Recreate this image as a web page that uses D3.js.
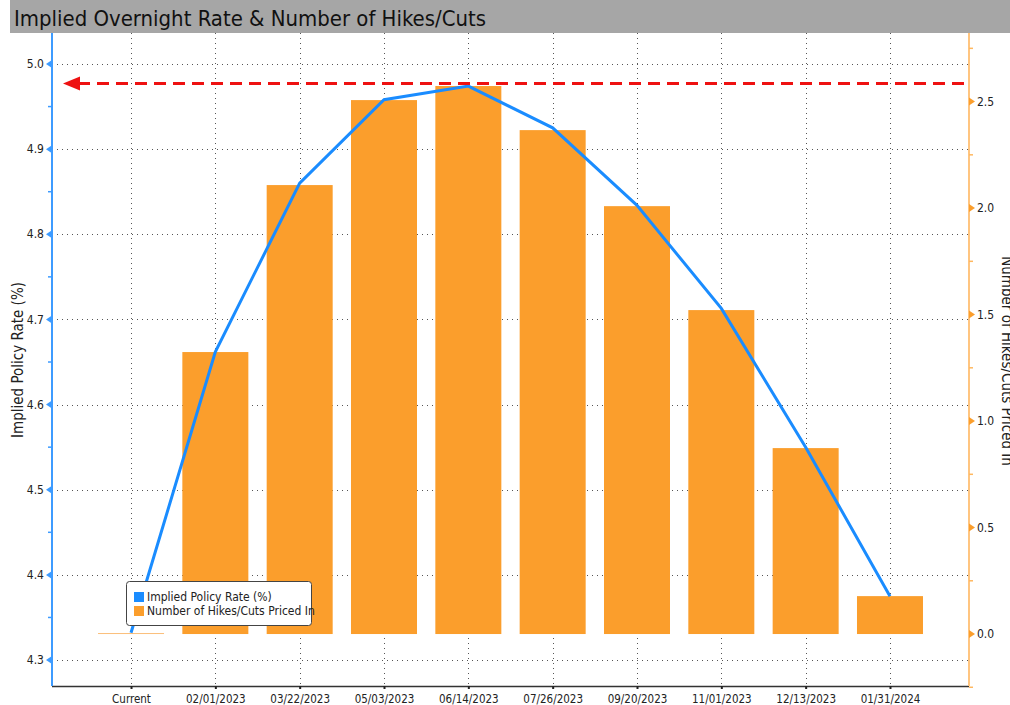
<!DOCTYPE html>
<html>
<head>
<meta charset="utf-8">
<script src="https://cdn.jsdelivr.net/npm/d3@7"></script>
<style>
  body { margin: 0; background: #fff; }
  svg { display: block; font-family: "DejaVu Sans Condensed", "DejaVu Sans", sans-serif; }
</style>
</head>
<body>
<div id="chart"></div>
<script>
// data
const categories = ["Current", "02/01/2023", "03/22/2023", "05/03/2023", "06/14/2023",
  "07/26/2023", "09/20/2023", "11/01/2023", "12/13/2023", "01/31/2024"];
const policyRate = [4.332, 4.662, 4.860, 4.958, 4.974, 4.925, 4.834, 4.713, 4.550, 4.375];
const hikesCuts = [0.0, 1.324, 2.108, 2.507, 2.573, 2.366, 2.009, 1.521, 0.873, 0.178];
const leftTicks = [4.3, 4.4, 4.5, 4.6, 4.7, 4.8, 4.9, 5.0];
const rightTicks = [0, 0.5, 1.0, 1.5, 2.0, 2.5];
const peakRate = 4.977;

const width = 1010, height = 705;
const plotL = 52, plotR = 969, plotT = 33, plotB = 686;

const svg = d3.select("#chart").append("svg")
  .attr("width", width)
  .attr("height", height);

// title bar
svg.append("rect").attr("x", 10).attr("y", 0).attr("width", 1000).attr("height", 33)
  .attr("fill", "#a6a6a6");
svg.append("text").attr("x", 14).attr("y", 26)
  .attr("font-size", 22).attr("fill", "#111")
  .attr("textLength", 472).attr("lengthAdjust", "spacingAndGlyphs")
  .text("Implied Overnight Rate & Number of Hikes/Cuts");

const x = d3.scalePoint().domain(categories).range([plotL, plotR]).padding(0.937);
const yL = d3.scaleLinear().domain([4.2695, 5.0364]).range([plotB, plotT]);
const yR = d3.scaleLinear().domain([-0.244, 2.822]).range([plotB, plotT]);

// grid
svg.append("g").selectAll("line").data(leftTicks).join("line")
  .attr("x1", plotL).attr("x2", plotR)
  .attr("y1", d => Math.round(yL(d)) + 0.5).attr("y2", d => Math.round(yL(d)) + 0.5)
  .attr("stroke", "#555").attr("stroke-dasharray", "1,4");
svg.append("g").selectAll("line").data(categories).join("line")
  .attr("x1", d => Math.round(x(d)) + 0.5).attr("x2", d => Math.round(x(d)) + 0.5)
  .attr("y1", plotT).attr("y2", plotB)
  .attr("stroke", "#555").attr("stroke-dasharray", "1,4");

// bars
const barW = 66;
svg.append("g").selectAll("rect").data(categories).join("rect")
  .attr("x", d => x(d) - barW / 2)
  .attr("width", barW)
  .attr("y", (d, i) => Math.min(yR(hikesCuts[i]), yR(0) - 1))
  .attr("height", (d, i) => Math.max(yR(0) - yR(hikesCuts[i]), 1))
  .attr("fill", (d, i) => hikesCuts[i] === 0 ? "#fbbf7a" : "#fb9e2c");

// line
const line = d3.line().x((d, i) => x(categories[i])).y(d => yL(d));
svg.append("path").datum(policyRate)
  .attr("d", line).attr("fill", "none")
  .attr("stroke", "#1a8cff").attr("stroke-width", 3);

// red dashed peak marker
svg.append("line")
  .attr("x1", 78).attr("x2", plotR - 2)
  .attr("y1", yL(peakRate)).attr("y2", yL(peakRate))
  .attr("stroke", "#ee1111").attr("stroke-width", 3)
  .attr("stroke-dasharray", "12,7");
svg.append("path")
  .attr("d", `M63,${yL(peakRate)} L80,${yL(peakRate) - 7} L80,${yL(peakRate) + 7} Z`)
  .attr("fill", "#ee1111");

// x axis
svg.append("line").attr("x1", plotL).attr("x2", plotR).attr("y1", plotB + 0.5).attr("y2", plotB + 0.5)
  .attr("stroke", "#333").attr("stroke-width", 1.5);
const xg = svg.append("g").attr("transform", `translate(0,${plotB})`)
  .call(d3.axisBottom(x).tickSize(3).tickPadding(6));
xg.select(".domain").remove();
xg.selectAll(".tick line").attr("stroke", "#222").attr("stroke-width", 2);
xg.selectAll("text").attr("font-size", 11.5).attr("fill", "#222")
  .attr("font-family", "DejaVu Sans Condensed, sans-serif");

// left axis
svg.append("line").attr("x1", plotL).attr("x2", plotL).attr("y1", plotT).attr("y2", plotB)
  .attr("stroke", "#3d9bff").attr("stroke-width", 2);
const lMinor = d3.range(4.35, 5.04, 0.1);
svg.append("g").selectAll("line").data(lMinor).join("line")
  .attr("x1", plotL - 4).attr("x2", plotL)
  .attr("y1", d => yL(d)).attr("y2", d => yL(d))
  .attr("stroke", "#3d9bff").attr("stroke-width", 1.5);
const lt = svg.append("g").selectAll("g").data(leftTicks).join("g")
  .attr("transform", d => `translate(${plotL},${yL(d)})`);
lt.append("path").attr("d", "M-6,0 L0,-4 L0,4 Z").attr("fill", "#3d9bff");
lt.append("text").attr("x", -8).attr("dy", "0.35em").attr("text-anchor", "end")
  .attr("font-size", 12).attr("fill", "#222").text(d => d.toFixed(1));

// right axis
svg.append("line").attr("x1", plotR).attr("x2", plotR).attr("y1", plotT).attr("y2", plotB)
  .attr("stroke", "#ffc580").attr("stroke-width", 2);
const rMinor = d3.range(-0.25, 2.8, 0.5);
svg.append("g").selectAll("line").data(rMinor).join("line")
  .attr("x1", plotR).attr("x2", plotR + 4)
  .attr("y1", d => yR(d)).attr("y2", d => yR(d))
  .attr("stroke", "#ffb860").attr("stroke-width", 1.5);
const rt = svg.append("g").selectAll("g").data(rightTicks).join("g")
  .attr("transform", d => `translate(${plotR},${yR(d)})`);
rt.append("path").attr("d", "M6,0 L0,-4 L0,4 Z").attr("fill", "#fb9e2c");
rt.append("text").attr("x", 8).attr("dy", "0.35em")
  .attr("font-size", 12).attr("fill", "#222").text(d => d.toFixed(1));

// axis titles
svg.append("text").attr("transform", "translate(23,360) rotate(-90)")
  .attr("text-anchor", "middle").attr("font-size", 15).attr("fill", "#222")
  .text("Implied Policy Rate (%)");
svg.append("text").attr("transform", "translate(1002,361) rotate(90)")
  .attr("text-anchor", "middle").attr("font-size", 15).attr("fill", "#222")
  .text("Number of Hikes/Cuts Priced In");

// legend
const lg = svg.append("g").attr("transform", "translate(126,581)");
lg.append("rect").attr("x", 0.5).attr("y", 0.5).attr("width", 185).attr("height", 44)
  .attr("rx", 3).attr("fill", "#fff").attr("stroke", "#444");
const legendItems = [["Implied Policy Rate (%)", "#1a8cff"], ["Number of Hikes/Cuts Priced In", "#fb9e2c"]];
legendItems.forEach((it, i) => {
  lg.append("rect").attr("x", 8).attr("y", 11 + i * 14).attr("width", 10).attr("height", 10)
    .attr("fill", it[1]);
  lg.append("text").attr("x", 21).attr("y", 20 + i * 14)
    .attr("font-size", 12).attr("fill", "#222").text(it[0]);
});
</script>
</body>
</html>
